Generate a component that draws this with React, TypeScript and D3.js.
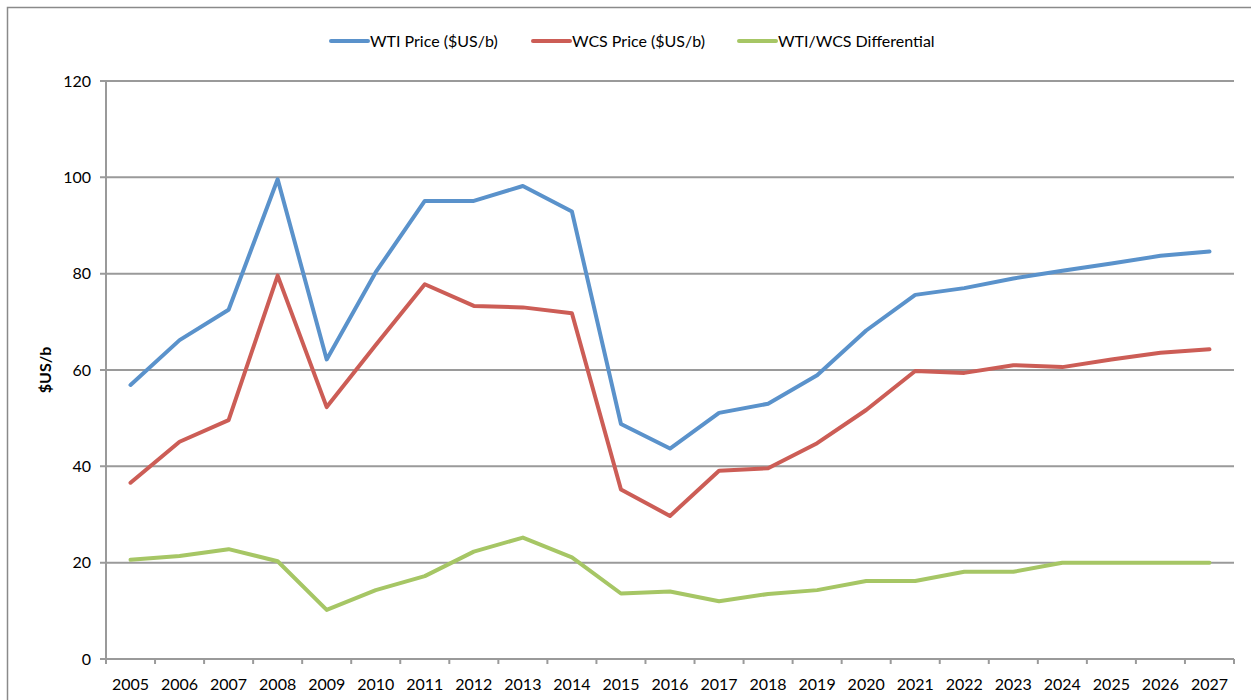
import React from "react";
import * as d3 from "d3";

const years = ["2005","2006","2007","2008","2009","2010","2011","2012","2013","2014","2015","2016","2017","2018","2019","2020","2021","2022","2023","2024","2025","2026","2027"];
const wti = [56.9,66.2,72.5,99.6,62.2,80.3,95.1,95.1,98.2,92.9,48.8,43.7,51.1,53.0,58.9,68.2,75.6,77.0,79.0,80.6,82.1,83.7,84.6];
const wcs = [36.6,45.1,49.6,79.6,52.3,65.2,77.8,73.3,73.0,71.8,35.2,29.7,39.1,39.6,44.8,51.7,59.8,59.4,61.0,60.6,62.2,63.6,64.3];
const diff = [20.6,21.4,22.8,20.3,10.2,14.3,17.2,22.3,25.2,21.1,13.6,14.0,12.0,13.5,14.3,16.2,16.2,18.1,18.1,20.0,20.0,20.0,20.0];
const yTicks = [0,20,40,60,80,100,120];
const seriesNames = ["WTI Price ($US/b)","WCS Price ($US/b)","WTI/WCS Differential"];
const seriesColors = ["#5A92CB","#CC5D56","#A6C665"];
const yLabel = "$US/b";

const W = 1251, H = 700;
const FONT = "Lato, 'Open Sans', sans-serif";

export default function App() {
  const x = d3.scaleBand<string>().domain(years).range([106, 1234]).padding(0);
  const y = d3.scaleLinear().domain([0, 120]).range([659, 81]);
  const cx = (d: string) => (x(d) as number) + x.bandwidth() / 2;
  const line = d3.line<number>().x((_, i) => cx(years[i])).y(v => y(v));
  const series = [wti, wcs, diff];
  const legendX = [331, 533, 739];
  return (
    <svg width={W} height={H} style={{ position: "absolute", left: 0, top: 0, background: "#fff" }} fontFamily={FONT}>
      <rect x={7.5} y={7.5} width={1260} height={720} fill="#fff" stroke="#8a8a8a" strokeWidth={1.5} />
      {yTicks.map(t => (
        <g key={t}>
          <line x1={100} x2={1234} y1={y(t)} y2={y(t)} stroke="#9a9a9a" strokeWidth={2} />
          <text x={91} y={y(t)} dy="0.35em" textAnchor="end" fontSize={16} fill="#000">{t}</text>
        </g>
      ))}
      <line x1={106} x2={106} y1={y(120)} y2={y(0) + 5} stroke="#9a9a9a" strokeWidth={2} />
      {years.map((yr) => (
        <g key={yr}>
          <line x1={x(yr) as number} x2={x(yr) as number} y1={y(0)} y2={y(0) + 5} stroke="#9a9a9a" strokeWidth={2} />
          <text x={cx(yr)} y={690} textAnchor="middle" fontSize={16} fill="#000">{yr}</text>
        </g>
      ))}
      <line x1={1234} x2={1234} y1={y(0)} y2={y(0) + 5} stroke="#9a9a9a" strokeWidth={2} />
      <text transform={`translate(51,370) rotate(-90)`} textAnchor="middle" fontSize={16} fontWeight="bold" fill="#000">{yLabel}</text>
      {series.map((s, i) => (
        <path key={i} d={line(s) || ""} fill="none" stroke={seriesColors[i]} strokeWidth={4} strokeLinejoin="round" strokeLinecap="round" />
      ))}
      {seriesNames.map((n, i) => (
        <g key={n}>
          <line x1={legendX[i]} x2={legendX[i] + 37} y1={41} y2={41} stroke={seriesColors[i]} strokeWidth={4} strokeLinecap="round" />
          <text x={legendX[i] + 39} y={41} dy="0.35em" fontSize={16} fill="#000">{n}</text>
        </g>
      ))}
    </svg>
  );
}
